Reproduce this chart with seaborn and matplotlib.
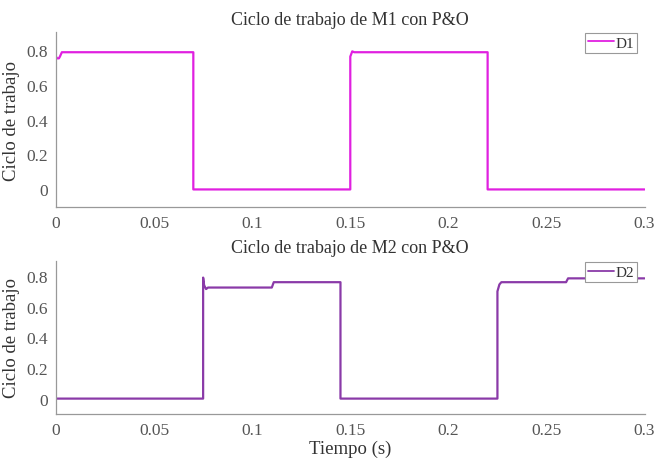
import numpy as np
import pandas as pd
import matplotlib
matplotlib.use("Agg")
import matplotlib.pyplot as plt
import seaborn as sns

# D1 duty cycle (M1, P&O): breakpoints in time and value
t1 = [0.0, 0.0005, 0.0015, 0.002, 0.003, 0.07, 0.07, 0.15, 0.15, 0.151, 0.152, 0.22, 0.22, 0.30]
d1 = [0.76, 0.75, 0.75, 0.76, 0.785, 0.785, 0.0, 0.0, 0.76, 0.79, 0.785, 0.785, 0.0, 0.0]

# D2 duty cycle (M2, P&O)
t2 = [0.0, 0.075, 0.075, 0.0755, 0.0765, 0.0775, 0.11, 0.111, 0.145, 0.145, 0.225, 0.225, 0.226, 0.227, 0.26, 0.261, 0.30]
d2 = [0.0, 0.0, 0.79, 0.74, 0.715, 0.725, 0.725, 0.76, 0.76, 0.0, 0.0, 0.70, 0.745, 0.76, 0.76, 0.785, 0.785]

xticks = [0, 0.05, 0.1, 0.15, 0.2, 0.25, 0.3]
xticklabels = ["0", "0.05", "0.1", "0.15", "0.2", "0.25", "0.3"]
yticks = [0, 0.2, 0.4, 0.6, 0.8]
yticklabels = ["0", "0.2", "0.4", "0.6", "0.8"]

sns.set_style("white")
plt.rcParams['font.family'] = ['Liberation Serif', 'DejaVu Serif']

fig = plt.figure(figsize=(6.54, 4.6), dpi=100)
ax1 = fig.add_axes([0.0856, 0.548, 0.900, 0.380])
ax2 = fig.add_axes([0.0856, 0.098, 0.900, 0.333])

df1 = pd.DataFrame({"t": t1, "D": d1})
df2 = pd.DataFrame({"t": t2, "D": d2})

sns.lineplot(data=df1, x="t", y="D", ax=ax1, color="#e020e0", lw=1.6,
             label="D1", sort=False, estimator=None)
sns.lineplot(data=df2, x="t", y="D", ax=ax2, color="#8a3aa8", lw=1.6,
             label="D2", sort=False, estimator=None)

gray = "#555555"
for ax, title in [(ax1, "Ciclo de trabajo de M1 con P&O"),
                  (ax2, "Ciclo de trabajo de M2 con P&O")]:
    ax.set_xlim(0, 0.3)
    ax.set_ylim(-0.1, 0.9)
    ax.set_xticks(xticks)
    ax.set_xticklabels(xticklabels)
    ax.set_yticks(yticks)
    ax.set_yticklabels(yticklabels)
    for s in ["top", "right"]:
        ax.spines[s].set_visible(False)
    for s in ["left", "bottom"]:
        ax.spines[s].set_color("#999999")
        ax.spines[s].set_linewidth(0.9)
    ax.tick_params(direction="in", length=4, width=0.8, colors="#999999",
                   labelcolor=gray, labelsize=12.5, pad=6)
    ax.set_title(title, fontsize=13, color="#333333", pad=6)
    ax.set_ylabel("Ciclo de trabajo", fontsize=13.5, color="#333333", labelpad=4)
    ax.set_xlabel("")
    leg = ax.legend(loc="upper right", bbox_to_anchor=(1.0, 1.04), fontsize=11,
                    handlelength=1.7, handletextpad=0.1, borderpad=0.2,
                    fancybox=False, framealpha=1, edgecolor="#999999")
    leg.get_frame().set_linewidth(0.8)
    for line in leg.get_lines():
        line.set_linewidth(1.3)
    for txt in leg.get_texts():
        txt.set_color("#333333")

ax2.set_xlabel("Tiempo (s)", fontsize=13.5, color="#333333", labelpad=1)

fig.savefig("out.png", dpi=100)
